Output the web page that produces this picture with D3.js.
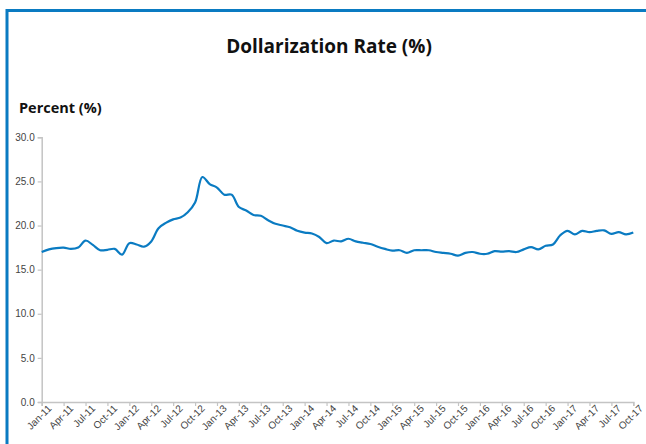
<!DOCTYPE html>
<html>
<head>
<meta charset="utf-8">
<script src="https://cdn.jsdelivr.net/npm/d3@7"></script>
<style>
  body { margin: 0; background: #fff; }
  svg { display: block; font-family: "Open Sans", "Lato", sans-serif; }
</style>
</head>
<body>
<div id="chart"></div>
<script>
// monthly dollarization rate, Jan-11 .. Oct-17
const months = ["Jan","Feb","Mar","Apr","May","Jun","Jul","Aug","Sep","Oct","Nov","Dec"];
const years = ["11","12","13","14","15","16","17"];
const rate = [
  17.0, 17.3, 17.45, 17.5, 17.35, 17.5, 18.3, 17.8, 17.2, 17.25, 17.35, 16.7,
  18.0, 17.85, 17.6, 18.2, 19.7, 20.3, 20.7, 20.9, 21.5, 22.6, 25.5, 24.7,
  24.3, 23.5, 23.5, 22.1, 21.7, 21.2, 21.1, 20.6, 20.2, 20.0, 19.8, 19.4,
  19.2, 19.1, 18.7, 18.0, 18.3, 18.2, 18.5, 18.2, 18.05, 17.9, 17.6, 17.35,
  17.15, 17.2, 16.9, 17.2, 17.2, 17.2, 17.0, 16.9, 16.8, 16.6, 16.9, 17.0,
  16.8, 16.8, 17.1, 17.05, 17.1, 17.0, 17.3, 17.55, 17.3, 17.7, 17.85, 18.9,
  19.4, 19.0, 19.4, 19.25, 19.4, 19.45, 19.05, 19.25, 19.0, 19.2
];
const yTicks = [0, 5, 10, 15, 20, 25, 30];

const labels = rate.map((d, i) => months[i % 12] + "-" + years[Math.floor(i / 12)]);
const data = rate.map((v, i) => ({ label: labels[i], value: v }));

const width = 646, height = 444;
const margin = { left: 41.7, right: 12.7, top: 137.3, bottom: 42 };

const svg = d3.select("#chart").append("svg")
    .attr("width", width)
    .attr("height", height);

// blue frame (left + top edge)
svg.append("path")
    .attr("d", `M7,${height + 5} V10.5 H${width + 5}`)
    .attr("fill", "none")
    .attr("stroke", "#0a7bc2")
    .attr("stroke-width", 3);

const x = d3.scalePoint()
    .domain(labels)
    .range([margin.left, width - margin.right]);

const y = d3.scaleLinear()
    .domain([0, 30])
    .range([height - margin.bottom, margin.top]);

svg.append("text")
    .attr("x", 329)
    .attr("y", 53)
    .attr("text-anchor", "middle")
    .attr("font-size", 19)
    .attr("font-weight", "bold")
    .attr("fill", "#111")
    .text("Dollarization Rate (%)");

svg.append("text")
    .attr("x", 19)
    .attr("y", 113)
    .attr("font-size", 14.5)
    .attr("font-weight", "bold")
    .attr("fill", "#111")
    .text("Percent (%)");

const yAxis = svg.append("g")
    .attr("transform", `translate(${margin.left},0)`)
    .call(d3.axisLeft(y).tickValues(yTicks).tickFormat(d3.format(".1f")).tickSize(4).tickPadding(3));

const xAxis = svg.append("g")
    .attr("transform", `translate(0,${height - margin.bottom})`)
    .call(d3.axisBottom(x).tickValues(labels.filter((d, i) => i % 3 === 0)).tickSize(4).tickPadding(2));

[yAxis, xAxis].forEach(ax => {
    ax.select(".domain").attr("stroke", "#c4c4c4").attr("stroke-width", 1.5);
    ax.selectAll(".tick line").attr("stroke", "#c4c4c4").attr("stroke-width", 1.2);
    ax.selectAll(".tick text").attr("fill", "#444").attr("font-size", 10);
});

xAxis.selectAll(".tick text")
    .attr("text-anchor", "end")
    .attr("dx", "0.2em")
    .attr("dy", "0.6em")
    .attr("transform", "rotate(-45)");

const line = d3.line()
    .x(d => x(d.label))
    .y(d => y(d.value))
    .curve(d3.curveCatmullRom.alpha(0.5));

svg.append("path")
    .datum(data)
    .attr("fill", "none")
    .attr("stroke", "#0a7bc2")
    .attr("stroke-width", 2.2)
    .attr("d", line);
</script>
</body>
</html>
